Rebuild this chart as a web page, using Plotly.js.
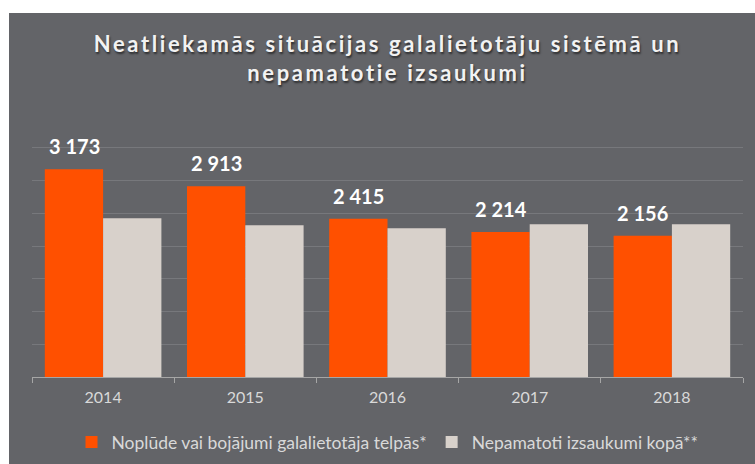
<!DOCTYPE html>
<html>
<head>
<meta charset="utf-8">
<script src="https://cdn.plot.ly/plotly-3.0.1.min.js"></script>
<style>
  html, body { margin: 0; padding: 0; background: #ffffff; }
  #chart { position: absolute; left: 9px; top: 13px; width: 746px; height: 451px; }
  .gtitle { letter-spacing: 2.6px; }
</style>
</head>
<body>
<div id="chart"></div>
<script>
const years = ['2014', '2015', '2016', '2017', '2018'];
const leaksValues = [3173, 2913, 2415, 2214, 2156];
const unfoundedValues = [2425, 2318, 2272, 2333, 2333];
const seriesNames = ['Noplūde vai bojājumi galalietotāja telpās*', 'Nepamatoti izsaukumi kopā**'];
const titleText = 'Neatliekamās situācijas galalietotāju sistēmā un<br>nepamatotie izsaukumi';

function fmt(v) { return String(v).replace(/\B(?=(\d{3})+(?!\d))/g, ' '); }

const traces = [
  { type: 'bar', name: seriesNames[0], x: years, y: leaksValues,
    marker: { color: '#ff5000' }, hoverinfo: 'skip' },
  { type: 'bar', name: seriesNames[1], x: years, y: unfoundedValues,
    marker: { color: '#d8d1cb' }, hoverinfo: 'skip' }
];

// category index of each year on the category axis
const annotations = years.map((yr, i) => ({
  x: i, y: leaksValues[i], xref: 'x', yref: 'y',
  text: fmt(leaksValues[i]), showarrow: false,
  xanchor: 'center', yanchor: 'bottom', xshift: -29, yshift: 9,
  font: { family: 'Lato, sans-serif', size: 20, color: '#ffffff', weight: 700 }
}));

const layout = {
  width: 746, height: 451,
  paper_bgcolor: '#636468', plot_bgcolor: '#636468',
  margin: { l: 23, r: 12, t: 102, b: 87, autoexpand: false },
  title: {
    text: titleText, x: 0.5, xref: 'paper', xanchor: 'center',
    y: 1 - 39 / 451, yref: 'container', yanchor: 'top',
    font: { family: 'Lato, sans-serif', size: 22, color: '#f2f2f2', weight: 700,
            shadow: '1px 2px 2px rgba(0,0,0,0.55)' }
  },
  barmode: 'group', bargap: 0.18, bargroupgap: 0,
  xaxis: {
    type: 'category', range: [-0.5, years.length - 0.5],
    showline: true, linecolor: '#a6a6a6', linewidth: 1,
    ticks: 'outside', tickson: 'boundaries', ticklen: 5, tickcolor: '#a6a6a6',
    ticklabelstandoff: 6,
    showgrid: false, tickfont: { family: 'Lato, sans-serif', size: 16, color: '#d9d9d9' }
  },
  yaxis: {
    range: [0, 4000], dtick: 500, showticklabels: false, showgrid: true,
    gridcolor: '#77787c', gridwidth: 1, zeroline: false, showline: false
  },
  legend: {
    orientation: 'h', x: 0.5, xanchor: 'center',
    y: 22 / 451, yref: 'container', yanchor: 'middle',
    font: { family: 'Lato, sans-serif', size: 17.5, color: '#d9d9d9' },
    bgcolor: 'rgba(0,0,0,0)', itemwidth: 30
  },
  annotations: annotations,
  showlegend: true
};

Plotly.newPlot('chart', traces, layout, { displayModeBar: false, staticPlot: true });
</script>
</body>
</html>
